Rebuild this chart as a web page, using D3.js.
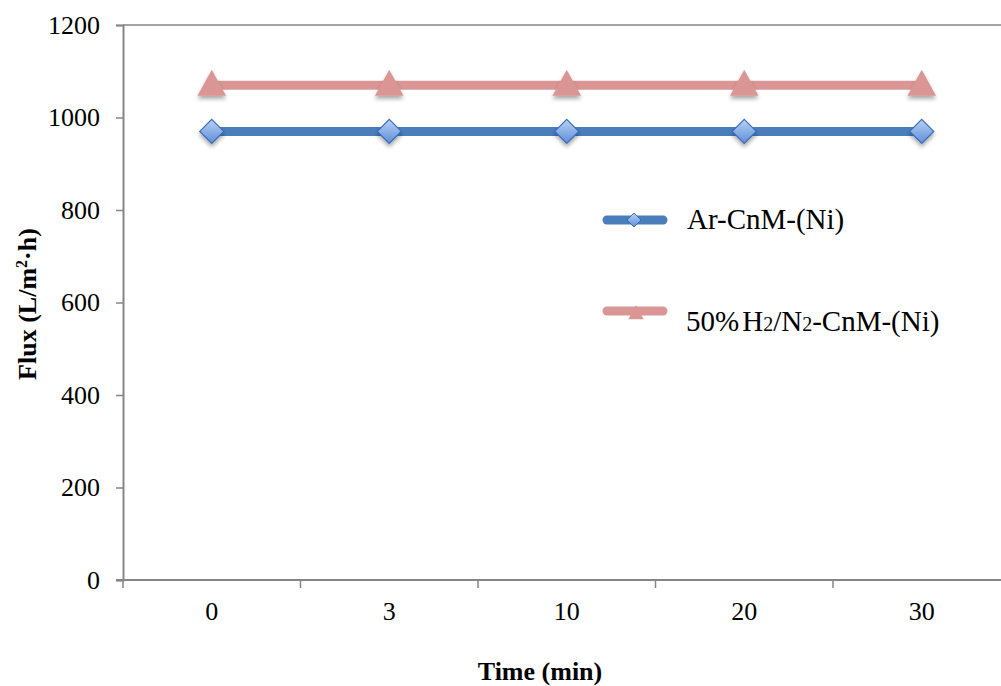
<!DOCTYPE html>
<html><head><meta charset="utf-8">
<script src="https://cdn.jsdelivr.net/npm/d3@7"></script>
<style>body{margin:0;background:#fff}svg{display:block}</style>
</head><body>
<script>
const categories = ["0","3","10","20","30"];
const arValues = [970, 970, 970, 970, 970];
const h2Values = [1070, 1070, 1070, 1070, 1070];
const yTicks = [0,200,400,600,800,1000,1200];
const seriesNames = ["Ar-CnM-(Ni)", "50%H2/N2-CnM-(Ni)"];

const W=1001,H=686;
const svg=d3.select("body").append("svg").attr("width",W).attr("height",H);
const defs=svg.append("defs");
const gb=defs.append("linearGradient").attr("id","gBlue").attr("x1",0).attr("y1",0).attr("x2",0).attr("y2",1);
gb.append("stop").attr("offset","0").attr("stop-color","#b9d1f3");
gb.append("stop").attr("offset","0.5").attr("stop-color","#8ab0e8");
gb.append("stop").attr("offset","1").attr("stop-color","#5f8fd8");
const sh=defs.append("filter").attr("id","shadow").attr("x","-50%").attr("y","-50%").attr("width","200%").attr("height","200%");
sh.append("feGaussianBlur").attr("in","SourceAlpha").attr("stdDeviation",2);
sh.append("feOffset").attr("dx",0).attr("dy",3).attr("result","ob");
sh.append("feComponentTransfer").append("feFuncA").attr("type","linear").attr("slope",0.35);
const fm=sh.append("feMerge");fm.append("feMergeNode");fm.append("feMergeNode").attr("in","SourceGraphic");

const x0=123,bw=177.5;
const x=d3.scaleBand().domain(categories).range([x0,x0+bw*categories.length]).paddingInner(0).paddingOuter(0);
const y=d3.scaleLinear().domain([0,1200]).range([580,25]);
const font="'Liberation Serif','Times New Roman',serif";
const axisColor="#868686";

// top border
svg.append("line").attr("x1",x0).attr("x2",W).attr("y1",y(1200)).attr("y2",y(1200)).attr("stroke",axisColor).attr("stroke-width",1.5);

// y axis
const ya=svg.append("g").attr("transform",`translate(${x0},0)`).call(d3.axisLeft(y).tickValues(yTicks).tickSize(7).tickPadding(16).tickFormat(d3.format("d")));
ya.select(".domain").attr("stroke",axisColor).attr("stroke-width",2);
ya.selectAll(".tick line").attr("stroke",axisColor).attr("stroke-width",1.5);
ya.selectAll("text").attr("font-family",font).attr("font-size",26).attr("fill","#000");

// x axis
const xa=svg.append("g").attr("transform",`translate(0,${y(0)})`).call(d3.axisBottom(x).tickSize(0).tickPadding(22));
xa.select(".domain").remove();
xa.selectAll("text").attr("font-family",font).attr("font-size",26).attr("fill","#000");
svg.append("line").attr("x1",x0-7).attr("x2",W).attr("y1",y(0)).attr("y2",y(0)).attr("stroke",axisColor).attr("stroke-width",2);
const bounds=categories.map((c)=>x(c));
svg.selectAll(".xt").data(bounds).enter().append("line").attr("x1",d=>d).attr("x2",d=>d).attr("y1",y(0)).attr("y2",y(0)+8).attr("stroke",axisColor).attr("stroke-width",1.5);

// lines
const cx=d=>x(d.c)+x.bandwidth()/2;
const line=d3.line().x(cx).y(d=>y(d.v));
const arData=categories.map((c,i)=>({c,v:arValues[i]}));
const h2Data=categories.map((c,i)=>({c,v:h2Values[i]}));
svg.append("path").datum(h2Data).attr("d",line).attr("fill","none").attr("stroke","#d99694").attr("stroke-width",9);
svg.append("path").datum(arData).attr("d",line).attr("fill","none").attr("stroke","#4a7ebb").attr("stroke-width",9);

const tri=(s)=>`M0,${-s*0.55} L${s*0.55},${s*0.45} L${-s*0.55},${s*0.45} Z`;
const dia=(s)=>`M0,${-s} L${s},0 L0,${s} L${-s},0 Z`;
svg.selectAll(".tri").data(h2Data).enter().append("path").attr("transform",d=>`translate(${cx(d)},${y(d.v)-1})`)
  .attr("d",tri(26)).attr("fill","#d99694").attr("filter","url(#shadow)");
svg.selectAll(".dia").data(arData).enter().append("path").attr("transform",d=>`translate(${cx(d)},${y(d.v)})`)
  .attr("d",dia(12)).attr("fill","url(#gBlue)").attr("stroke","#3a6cb5").attr("stroke-width",1.2).attr("filter","url(#shadow)");

// legend
const lg=svg.append("g");
lg.append("line").attr("x1",607).attr("x2",663).attr("y1",220).attr("y2",220).attr("stroke","#4a7ebb").attr("stroke-width",9).attr("stroke-linecap","round");
lg.append("path").attr("transform","translate(634,220)").attr("d",dia(7)).attr("fill","url(#gBlue)").attr("stroke","#3a6cb5").attr("stroke-width",1);
lg.append("text").attr("x",687).attr("y",229).attr("font-family",font).attr("font-size",29).text(seriesNames[0]);
lg.append("line").attr("x1",607).attr("x2",663).attr("y1",311).attr("y2",311).attr("stroke","#d99694").attr("stroke-width",9).attr("stroke-linecap","round");
lg.append("path").attr("transform","translate(636,313)").attr("d",tri(14)).attr("fill","#d99694");
const t2=lg.append("text").attr("x",686).attr("y",331).attr("font-family",font).attr("font-size",29);
t2.append("tspan").text("50%");
t2.append("tspan").attr("dx",3).text("H");
t2.append("tspan").attr("font-size",20).text("2");
t2.append("tspan").text("/N");
t2.append("tspan").attr("font-size",20).text("2");
t2.append("tspan").text("-CnM-(Ni)");

// titles
svg.append("text").attr("x",540).attr("y",680).attr("text-anchor","middle").attr("font-family",font).attr("font-size",26).attr("font-weight","bold").text("Time (min)");
const yt=svg.append("text").attr("transform","translate(36,304) rotate(-90)").attr("text-anchor","middle").attr("font-family",font).attr("font-size",26).attr("font-weight","bold");
yt.append("tspan").text("Flux (L/m");
yt.append("tspan").attr("font-size",16).attr("dy",-9).text("2");
yt.append("tspan").attr("dy",9).text("·h)");
</script>
</body></html>
